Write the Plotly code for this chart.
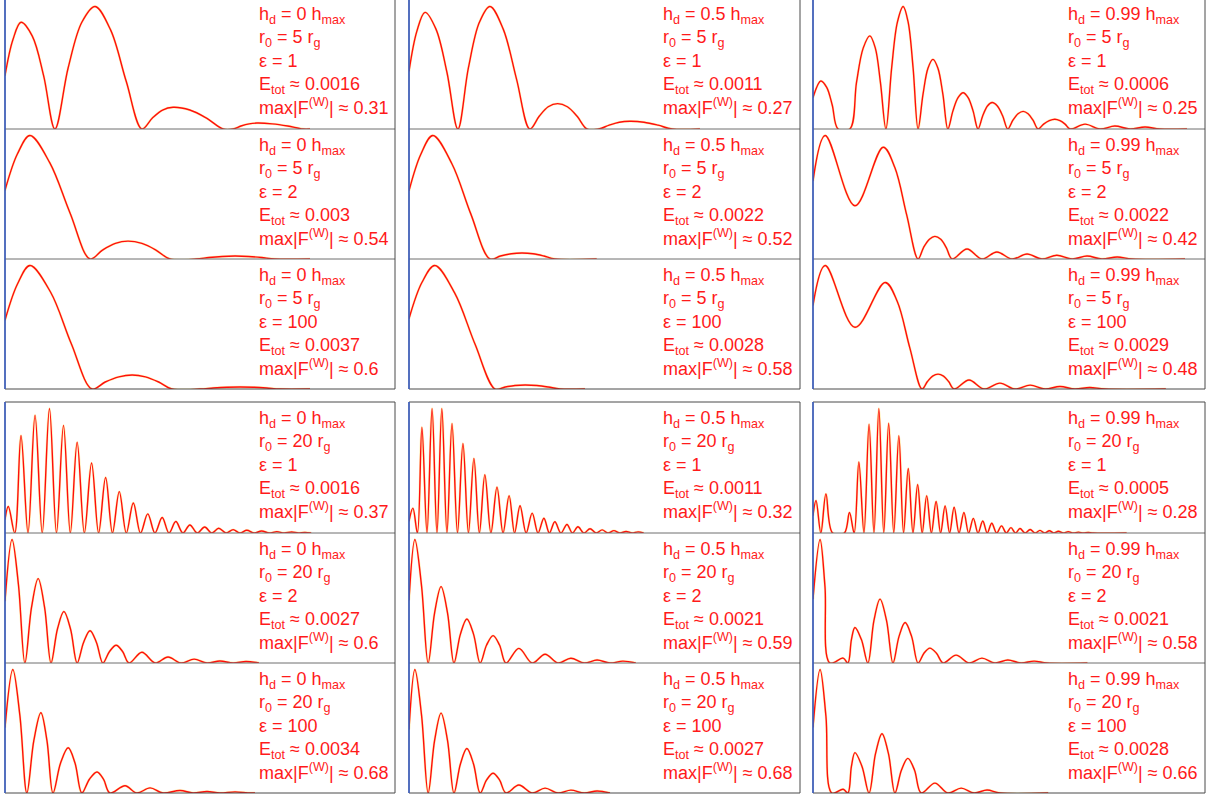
import plotly.graph_objects as go

W, H = 1213, 799

# ---------------- labels ----------------
hd_vals = ["0", "0.5", "0.99"]
r0_vals = ["5", "20"]
eps_vals = ["1", "2", "100"]

# [hd][eps]
etot_r5 = [["0.0016", "0.003", "0.0037"], ["0.0011", "0.0022", "0.0028"], ["0.0006", "0.0022", "0.0029"]]
maxf_r5 = [[0.31, 0.54, 0.6], [0.27, 0.52, 0.58], [0.25, 0.42, 0.48]]
etot_r20 = [["0.0016", "0.0027", "0.0034"], ["0.0011", "0.0021", "0.0027"], ["0.0005", "0.0021", "0.0028"]]
maxf_r20 = [[0.37, 0.6, 0.68], [0.32, 0.59, 0.68], [0.28, 0.58, 0.66]]

# ---------------- curves (x: % of panel width, y: |F|) ----------------
# r0 = 5, hd = 0
x_r5_h0_e1 = [0, 2.0, 4.1, 7.0, 9.9, 12.8, 16.2, 19.7, 23.1, 27.1, 31.1, 35.1, 37.8, 40.4, 43.1, 47.4,
              51.6, 55.9, 58.5, 60.5, 62.6, 64.6, 68.5, 72.5, 76.4, 78.2]
y_r5_h0_e1 = [0.135, 0.225, 0.27, 0.235, 0.135, 0, 0.155, 0.27, 0.31, 0.25, 0.12, 0, 0.028, 0.048, 0.055, 0.048,
              0.028, 0, 0, 0.0075, 0.013, 0.015, 0.013, 0.0075, 0, 0]
x_r5_h0_e2 = [0, 3.2, 6.4, 11.5, 16.7, 21.8, 25.0, 28.3, 31.5, 35.1, 38.7, 42.3, 49.0, 52.3, 55.7, 59.0,
              62.4, 65.8, 69.2, 78.2]
y_r5_h0_e2 = [0.30, 0.46, 0.54, 0.42, 0.2, 0, 0.039, 0.068, 0.078, 0.068, 0.039, 0, 0, 0.0065, 0.011, 0.013,
              0.011, 0.0065, 0, 0]
x_r5_h0_e100 = [0, 3.2, 6.4, 11.7, 17.0, 22.3, 25.7, 29.2, 32.6, 36.0, 39.4, 42.8, 50.0, 53.4, 56.9, 60.3,
                63.7, 67.1, 70.5, 78.2]
y_r5_h0_e100 = [0.334, 0.51, 0.6, 0.47, 0.22, 0, 0.034, 0.059, 0.068, 0.059, 0.034, 0, 0, 0.005, 0.0087, 0.01,
                0.0087, 0.005, 0, 0]
# r0 = 5, hd = 0.5
x_r5_h05_e1 = [0, 2.0, 4.1, 6.9, 9.7, 12.5, 15.2, 18.0, 20.7, 24.1, 27.5, 30.9, 33.3, 35.6, 38.0, 40.5,
               43.0, 45.5, 48.5, 51.2, 53.8, 56.5, 60.1, 63.7, 67.3, 74.4]
y_r5_h05_e1 = [0.127, 0.215, 0.257, 0.22, 0.125, 0, 0.135, 0.235, 0.27, 0.22, 0.11, 0, 0.028, 0.049, 0.056, 0.049,
               0.028, 0, 0, 0.0085, 0.015, 0.017, 0.015, 0.0085, 0, 0]
x_r5_h05_e2 = [0, 3.0, 6.1, 11.0, 15.8, 20.7, 23.4, 26.2, 28.9, 31.7, 34.5, 37.3, 48]
y_r5_h05_e2 = [0.287, 0.44, 0.52, 0.4, 0.19, 0, 0.0125, 0.022, 0.025, 0.022, 0.0125, 0, 0]
x_r5_h05_e100 = [0, 3.3, 6.6, 11.7, 16.9, 22.0, 24.6, 27.1, 29.7, 32.7, 35.6, 38.6, 45]
y_r5_h05_e100 = [0.33, 0.5, 0.58, 0.45, 0.21, 0, 0.0095, 0.0165, 0.019, 0.0165, 0.0095, 0, 0]
# r0 = 5, hd = 0.99
x_r5_h099_e1 = [0, 2.0, 3.5, 4.9, 6.4, 9.4, 11.1, 12.8, 14.5, 15.9, 17.2, 18.6, 20.07, 21.53, 23.0,
                24.27, 25.53, 26.8, 28.07, 29.33, 30.6, 31.87, 33.13, 34.4, 35.7, 37.0, 38.3, 39.57,
                40.83, 42.1, 43.3, 44.5, 45.7, 47.03, 48.37, 49.7, 51.0, 52.3, 53.6, 54.87, 56.13,
                57.4, 58.83, 60.27, 61.7, 63.0, 64.3, 65.6, 69.4, 73.2, 77.0, 80.9, 84.7, 88.5, 95.4]
y_r5_h099_e1 = [0.064, 0.098, 0.085, 0.049, 0, 0, 0.095, 0.165, 0.19, 0.165, 0.095, 0, 0.125, 0.218, 0.25,
                0.218, 0.125, 0, 0.071, 0.124, 0.142, 0.124, 0.071, 0, 0.037, 0.064, 0.074, 0.064,
                0.037, 0, 0.027, 0.047, 0.054, 0.047, 0.027, 0, 0.018, 0.031, 0.036, 0.031, 0.018,
                0, 0.01, 0.017, 0.02, 0.017, 0.01, 0, 0.01, 0, 0.006, 0, 0.004, 0, 0]
x_r5_h099_e2 = [0, 3.1, 10.7, 17.9, 20.9, 23.9, 26.8, 28.2, 29.7, 31.1, 32.6, 34.0, 35.5, 39.3, 43.1,
                46.9, 50.8, 54.6, 58.4, 62.2, 66.1, 69.9, 73.7, 77.6, 81.4, 94.9]
y_r5_h099_e2 = [0.265, 0.42, 0.181, 0.38, 0.31, 0.15, 0, 0.039, 0.067, 0.077, 0.067, 0.039, 0, 0.034, 0,
                0.024, 0, 0.017, 0, 0.013, 0, 0.01, 0, 0.007, 0, 0]
x_r5_h099_e100 = [0, 3.1, 10.7, 18.4, 21.5, 24.7, 27.8, 29.2, 30.5, 31.9, 33.3, 34.6, 36.0, 39.8, 43.6,
                  47.7, 51.5, 55.4, 59.2, 63.0, 66.8, 70.6, 74.5, 90]
y_r5_h099_e100 = [0.325, 0.48, 0.24, 0.414, 0.34, 0.16, 0, 0.029, 0.05, 0.058, 0.05, 0.029, 0, 0.035, 0,
                  0.023, 0, 0.015, 0, 0.01, 0, 0.006, 0, 0]
# r0 = 20, hd = 0
x_r20_h0_e1 = [0, 0.85, 2.5, 4.1, 5.9, 7.7, 9.55, 11.4, 13.2, 15.0, 16.75, 18.5, 20.35, 22.2, 24.0,
               25.8, 27.55, 29.3, 31.1, 32.9, 34.75, 36.6, 38.45, 40.3, 42.05, 43.8, 45.6, 47.4,
               49.3, 51.2, 53.0, 54.8, 56.65, 58.5, 60.25, 62.0, 63.9, 65.8, 67.75, 69.7, 71.6,
               73.5, 75.2, 76.9, 78.5]
y_r20_h0_e1 = [0.04, 0.079, 0, 0.29, 0, 0.35, 0, 0.37, 0, 0.32, 0, 0.27, 0, 0.208, 0,
               0.165, 0, 0.123, 0, 0.089, 0, 0.057, 0, 0.046, 0, 0.034, 0, 0.024,
               0, 0.018, 0, 0.014, 0, 0.01, 0, 0.008, 0, 0.006, 0, 0.004, 0,
               0.003, 0, 0.002, 0]
x_r20_h0_e2 = [0, 1.8, 3.45, 5.1, 6.8, 8.5, 10.15, 11.8, 13.45, 15.1, 16.8, 18.5, 20.15, 21.8, 23.45,
               25.1, 26.8, 28.5, 30.15, 31.8, 35.1, 38.5, 41.8, 45.1, 48.5, 51.8, 55.1, 58.5, 61.8, 65.1]
y_r20_h0_e2 = [0.3, 0.6, 0.38, 0, 0.27, 0.41, 0.27, 0, 0.165, 0.25, 0.165, 0, 0.1, 0.157, 0.1,
               0, 0.056, 0.086, 0.056, 0, 0.052, 0, 0.029, 0, 0.019, 0, 0.01, 0, 0.007, 0]
x_r20_h0_e100 = [0, 2.0, 3.8, 5.6, 7.4, 9.2, 10.75, 12.3, 14.25, 16.2, 17.95, 19.7, 21.65, 23.6, 25.25,
                 26.9, 30.8, 33.8, 37.2, 40.5, 44.9, 48.2, 51.8, 55.1, 59.0, 62.3, 64.1]
y_r20_h0_e100 = [0.36, 0.68, 0.43, 0, 0.29, 0.442, 0.29, 0, 0.165, 0.249, 0.165, 0, 0.076, 0.116, 0.076,
                 0, 0.04, 0, 0.028, 0, 0.014, 0, 0.008, 0, 0.006, 0, 0]
# r0 = 20, hd = 0.5
x_r20_h05_e1 = [0, 1.0, 2.15, 3.3, 4.6, 5.9, 7.15, 8.4, 9.7, 11.0, 12.4, 13.8, 15.2, 16.6, 18.0,
                19.4, 20.95, 22.5, 24.05, 25.6, 27.0, 28.4, 29.95, 31.5, 33.0, 34.5, 35.9, 37.3,
                38.85, 40.4, 41.8, 43.2, 44.75, 46.3, 47.85, 49.4, 50.9, 52.4, 53.95, 55.5,
                57.05, 58.6, 60.0]
y_r20_h05_e1 = [0.03, 0.064, 0, 0.272, 0, 0.32, 0, 0.32, 0, 0.282, 0, 0.23, 0, 0.192, 0,
                0.15, 0, 0.118, 0, 0.096, 0, 0.07, 0, 0.051, 0, 0.038, 0, 0.029,
                0, 0.022, 0, 0.016, 0, 0.011, 0, 0.008, 0, 0.006, 0, 0.004,
                0, 0.003, 0]
x_r20_h05_e2 = [0, 1.5, 3.2, 4.9, 6.55, 8.2, 9.85, 11.5, 13.15, 14.8, 16.5, 18.2, 19.85, 21.5, 23.15,
                24.8, 28.1, 31.5, 34.8, 38.1, 41.4, 44.8, 48.1, 51.4, 54.7, 58.0]
y_r20_h05_e2 = [0.3, 0.59, 0.37, 0, 0.24, 0.365, 0.24, 0, 0.138, 0.21, 0.138, 0, 0.086, 0.131, 0.086,
                0, 0.07, 0, 0.042, 0, 0.023, 0, 0.014, 0, 0.009, 0]
x_r20_h05_e100 = [0, 1.5, 3.2, 4.9, 6.55, 8.2, 9.85, 11.5, 13.15, 14.8, 16.5, 18.2, 19.85, 21.5, 23.15,
                  24.8, 28.1, 31.5, 34.8, 38.1, 41.4, 44.8, 48.1, 51.4]
y_r20_h05_e100 = [0.35, 0.68, 0.43, 0, 0.29, 0.44, 0.29, 0, 0.16, 0.245, 0.16, 0, 0.072, 0.109, 0.072,
                  0, 0.044, 0, 0.027, 0, 0.016, 0, 0.011, 0]
# r0 = 20, hd = 0.99
x_r20_h099_e1 = [0, 0.77, 2.0, 3.3, 5.0, 8.0, 9.3, 10.5, 11.7, 13.0, 14.3, 15.55, 16.8, 18.05,
                 19.3, 20.6, 21.9, 23.1, 24.3, 25.5, 26.7, 27.85, 29.0, 30.2, 31.4, 32.55, 33.7,
                 34.85, 36.0, 37.25, 38.5, 39.7, 40.9, 42.1, 43.3, 44.45, 45.6, 46.85, 48.1,
                 49.3, 50.5, 51.65, 52.8, 54.1, 55.4, 56.65, 57.9, 59.1, 60.3, 61.45, 62.6,
                 63.85, 65.1, 66.4, 67.7, 68.95, 70.2, 71.5, 80.0]
y_r20_h099_e1 = [0.039, 0.073, 0, 0.088, 0, 0, 0.046, 0, 0.16, 0, 0.245, 0, 0.28, 0,
                 0.247, 0, 0.219, 0, 0.145, 0, 0.109, 0, 0.084, 0, 0.071, 0, 0.061,
                 0, 0.058, 0, 0.046, 0, 0.033, 0, 0.027, 0, 0.022, 0, 0.016,
                 0, 0.012, 0, 0.01, 0, 0.008, 0, 0.006, 0, 0.005, 0, 0.004,
                 0, 0.003, 0, 0.002, 0, 0.0015, 0, 0]
x_r20_h099_e2 = [0, 1.8, 3.05, 4.3, 7.7, 8.9, 9.8, 10.7, 12.35, 14.0, 15.55, 17.1, 18.75, 20.4, 21.95,
                 23.5, 25.15, 26.8, 28.3, 29.8, 31.5, 33.2, 36.5, 39.8, 43.1, 46.4, 49.7, 53.1,
                 56.4, 59.7, 70]
y_r20_h099_e2 = [0.3, 0.58, 0.36, 0, 0.023, 0, 0.11, 0.167, 0.11, 0, 0.2, 0.3, 0.2, 0, 0.125,
                 0.19, 0.125, 0, 0.046, 0.07, 0.046, 0, 0.037, 0, 0.023, 0, 0.014, 0,
                 0.009, 0, 0]
x_r20_h099_e100 = [0, 1.8, 3.3, 4.8, 7.7, 8.9, 9.8, 10.7, 12.5, 14.3, 15.95, 17.6, 19.25, 20.9, 22.55,
                   24.2, 25.9, 27.6, 31.1, 34.4, 37.8, 41.1, 44.4, 47.7, 60]
y_r20_h099_e100 = [0.35, 0.66, 0.41, 0, 0.02, 0, 0.142, 0.216, 0.142, 0, 0.21, 0.317, 0.21, 0, 0.122,
                   0.185, 0.122, 0, 0.053, 0, 0.026, 0, 0.016, 0, 0]

curves = [
    [[(x_r5_h0_e1, y_r5_h0_e1), (x_r5_h0_e2, y_r5_h0_e2), (x_r5_h0_e100, y_r5_h0_e100)],
     [(x_r5_h05_e1, y_r5_h05_e1), (x_r5_h05_e2, y_r5_h05_e2), (x_r5_h05_e100, y_r5_h05_e100)],
     [(x_r5_h099_e1, y_r5_h099_e1), (x_r5_h099_e2, y_r5_h099_e2), (x_r5_h099_e100, y_r5_h099_e100)]],
    [[(x_r20_h0_e1, y_r20_h0_e1), (x_r20_h0_e2, y_r20_h0_e2), (x_r20_h0_e100, y_r20_h0_e100)],
     [(x_r20_h05_e1, y_r20_h05_e1), (x_r20_h05_e2, y_r20_h05_e2), (x_r20_h05_e100, y_r20_h05_e100)],
     [(x_r20_h099_e1, y_r20_h099_e1), (x_r20_h099_e2, y_r20_h099_e2), (x_r20_h099_e100, y_r20_h099_e100)]],
]
etots = [etot_r5, etot_r20]
maxfs = [maxf_r5, maxf_r20]

# ---------------- layout geometry (pixels) ----------------
col_px = [(5, 395), (409, 800), (813, 1205)]
row_px = [[(-2, 129), (129, 259), (259, 389)], [(402, 533), (533, 663), (663, 793)]]
text_left_px = [257, 661, 1066]

fig = go.Figure()
shapes = []
annotations = []


def px_x(p):
    return p / W


def px_y(p):
    return 1 - p / H


k = 0
for br in range(2):
    for c in range(3):
        for e in range(3):
            k += 1
            ax = "" if k == 1 else str(k)
            xs, ys = curves[br][c][e]
            ymax = maxfs[br][c][e]
            fig.add_trace(go.Scatter(x=xs, y=ys, xaxis="x" + ax, yaxis="y" + ax, mode="lines",
                                     line=dict(color="#ffd000", width=2.4, shape="spline", smoothing=1.0),
                                     opacity=0.3, hoverinfo="skip", showlegend=False))
            fig.add_trace(go.Scatter(x=xs, y=ys, xaxis="x" + ax, yaxis="y" + ax, mode="lines",
                                     line=dict(color="#ff0d0d", width=1.4, shape="spline", smoothing=1.0),
                                     hoverinfo="skip", showlegend=False))
            x0, x1 = col_px[c]
            y0, y1 = row_px[br][e]
            fig.layout["xaxis" + ax] = dict(domain=[px_x(x0), px_x(x1)], range=[0, 100],
                                            anchor="y" + ax, visible=False, fixedrange=True)
            fig.layout["yaxis" + ax] = dict(domain=[px_y(y1), min(1.0, px_y(y0))],
                                            range=[0, ymax / 0.95], anchor="x" + ax,
                                            visible=False, fixedrange=True)
            txt = (f"h<sub>d</sub> = {hd_vals[c]} h<sub>max</sub><br>"
                   f"r<sub>0</sub> = {r0_vals[br]} r<sub>g</sub><br>"
                   f"ε = {eps_vals[e]}<br>"
                   f"E<sub>tot</sub> ≈ {etots[br][c][e]}<br>"
                   f"max|F<sup>(W)</sup>| ≈ {maxfs[br][c][e]:g}")
            annotations.append(dict(x=px_x(text_left_px[c]), y=px_y(y0 + 4), xref="paper", yref="paper",
                                    xanchor="left", yanchor="top", align="left", showarrow=False,
                                    text=txt, font=dict(family="Liberation Sans, Arial", size=18,
                                                        color="#ff1a1a")))
            if e < 2:
                shapes.append(dict(type="line", xref="paper", yref="paper",
                                   x0=px_x(x0), x1=px_x(x1), y0=px_y(y1), y1=px_y(y1),
                                   line=dict(color="#6e6e6e", width=1)))
        x0, x1 = col_px[c]
        ytop = row_px[br][0][0]
        ybot = row_px[br][2][1]
        shapes.append(dict(type="rect", xref="paper", yref="paper", x0=px_x(x0), x1=px_x(x1),
                           y0=px_y(ybot), y1=px_y(ytop), line=dict(color="#4a4a4a", width=1)))
        shapes.append(dict(type="line", xref="paper", yref="paper", x0=px_x(x0), x1=px_x(x0),
                           y0=px_y(ybot), y1=px_y(ytop), line=dict(color="#3a5fc8", width=1.5)))

fig.update_layout(width=W, height=H, margin=dict(l=0, r=0, t=0, b=0),
                  paper_bgcolor="white", plot_bgcolor="rgba(0,0,0,0)",
                  shapes=shapes, annotations=annotations, showlegend=False)

fig.write_html("out.html", config={"displayModeBar": False},
               post_script="document.body.style.margin='0';document.body.style.overflow='hidden';")
